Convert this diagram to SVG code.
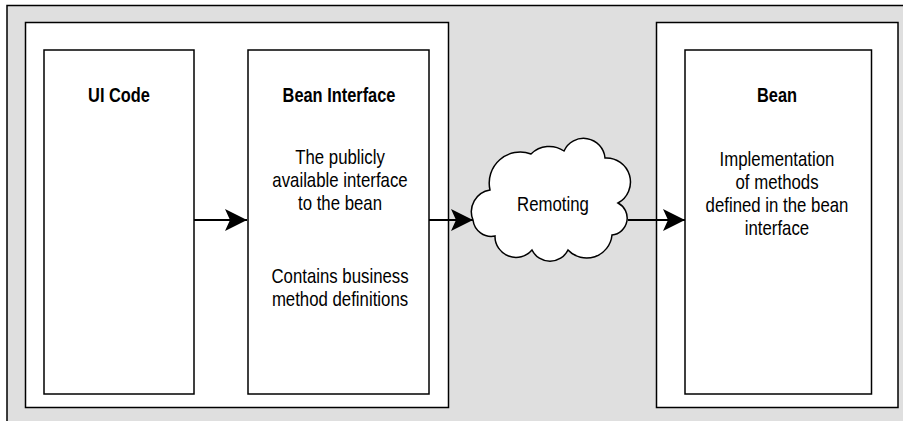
<svg xmlns="http://www.w3.org/2000/svg" width="903" height="421" viewBox="0 0 903 421">
<defs>
<style>
.bg{fill:#dfdfdf;stroke:#000;stroke-width:1.5}
.panel{fill:#fff;stroke:#000;stroke-width:1.5}
.box{fill:#fff;stroke:#000;stroke-width:1.5}
.cloud{fill:#fff;stroke:#000;stroke-width:1.5}
.title{font-family:"Liberation Sans",Arial,sans-serif;font-size:20px;font-weight:bold;fill:#000;text-anchor:middle}
.body{font-family:"Liberation Sans",Arial,sans-serif;font-size:20px;fill:#000;text-anchor:middle}
.conn{fill:none;stroke:#000;stroke-width:2}
</style>
<marker id="arr" markerUnits="userSpaceOnUse" markerWidth="24" markerHeight="24" refX="22" refY="11" orient="auto">
<path d="M0,0 L22,11 L0,22 L5,11 Z" fill="#000"/>
</marker>
</defs>
<rect class="bg" x="7" y="5.5" width="905" height="430"/>
<g id="client-panel">
<rect class="panel" x="25.5" y="22.5" width="423" height="385"/>
</g>
<g id="server-panel">
<rect class="panel" x="656.5" y="22.5" width="241.5" height="385"/>
</g>
<g id="ui-code">
<rect class="box" x="44" y="50" width="150" height="344"/>
<g transform="translate(119 0) scale(0.82 1)">
<text class="title" x="0" y="102">UI Code</text>
</g>
</g>
<g id="bean-interface">
<rect class="box" x="248" y="50" width="181" height="344"/>
<g transform="translate(339 0) scale(0.82 1)">
<text class="title" x="0" y="102">Bean Interface</text>
</g>
<g transform="translate(340 0) scale(0.84 1)">
<text class="body" x="0" y="164">The publicly</text>
<text class="body" x="0" y="187">available interface</text>
<text class="body" x="0" y="210">to the bean</text>
<text class="body" x="0" y="283">Contains business</text>
<text class="body" x="0" y="306">method definitions</text>
</g>
</g>
<g id="remoting">
<path class="cloud" d="M473,220 A22,22 0 0 1 490,190 A31,31 0 0 1 531,154 A26,26 0 0 1 564,151 A21.5,21.5 0 0 1 605,158 A24,24 0 0 1 618,203 A17,17 0 0 1 612,235 A25.5,25.5 0 0 1 568,250 A20,20 0 0 1 532,250 A21,21 0 0 1 495,236 A18.5,18.5 0 0 1 473,220 Z"/>
<g transform="translate(553 0) scale(0.84 1)">
<text class="body" x="0" y="211">Remoting</text>
</g>
</g>
<g id="bean">
<rect class="box" x="685" y="50" width="186.5" height="344"/>
<g transform="translate(777 0) scale(0.82 1)">
<text class="title" x="0" y="102">Bean</text>
</g>
<g transform="translate(777 0) scale(0.84 1)">
<text class="body" x="0" y="166">Implementation</text>
<text class="body" x="0" y="189">of methods</text>
<text class="body" x="0" y="212">defined in the bean</text>
<text class="body" x="0" y="235">interface</text>
</g>
</g>
<g id="connectors">
<line class="conn" x1="194" y1="220" x2="247" y2="220" marker-end="url(#arr)"/>
<line class="conn" x1="429" y1="220" x2="473" y2="220" marker-end="url(#arr)"/>
<line class="conn" x1="628" y1="220" x2="685" y2="220" marker-end="url(#arr)"/>
</g>
</svg>
